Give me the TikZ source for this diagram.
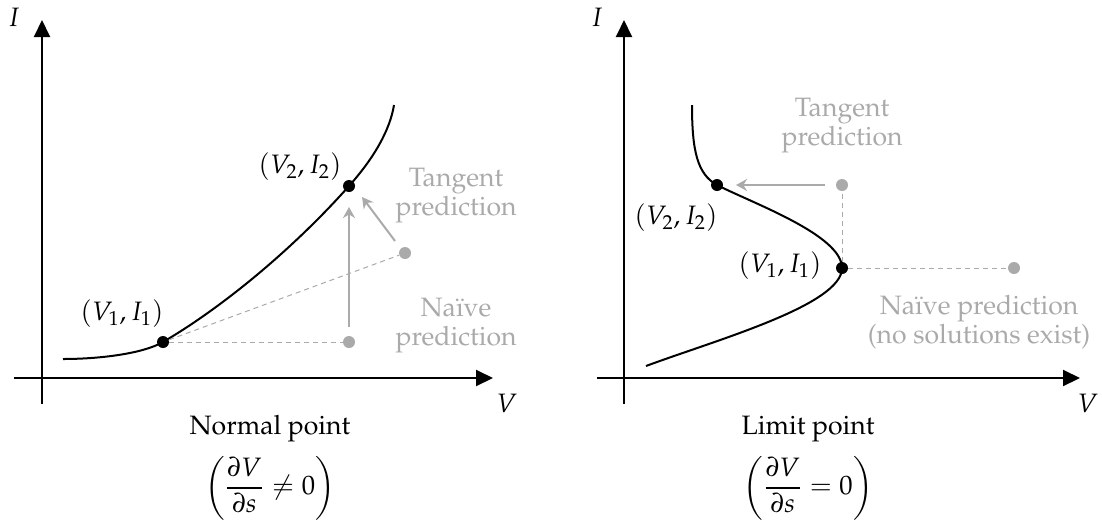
\documentclass[tikz,border=0pt]{standalone}
\usepackage[T1]{fontenc}
\usepackage{mathpazo}
\usepackage{amsmath}
\usetikzlibrary{arrows.meta}
\definecolor{lgray}{RGB}{170,170,170}
\tikzset{
  axis/.style={line width=1pt,-{Triangle[length=8.5pt,width=8pt]}},
  curve/.style={line width=1pt},
  bdot/.style={circle,fill=black,inner sep=0pt,minimum size=6pt},
  gdot/.style={circle,fill=lgray,inner sep=0pt,minimum size=6pt},
  guide/.style={lgray,line width=0.5pt,dash pattern=on 2.5pt off 2pt},
  garrow/.style={lgray,line width=1pt,-{Stealth[length=5.5pt,width=6pt,inset=1.8pt]}},
  glabel/.style={text=lgray,align=center,inner sep=1pt,font=\fontsize{13.3}{14.5}\selectfont},
  lab/.style={inner sep=1pt,font=\fontsize{13.3}{14.5}\selectfont},
  captext/.style={align=center,inner sep=1pt,font=\fontsize{13.3}{14.5}\selectfont}
}
\begin{document}
\begin{tikzpicture}[x=0.5pt,y=-0.5pt]
\useasboundingbox (0,0) rectangle (1102,531);
% ---------- Left panel ----------
\coordinate (lxs) at (14,378);
\coordinate (lxe) at (493,378);
\coordinate (lys) at (42,404);
\coordinate (lye) at (42,20);
\draw[axis] (lxs) -- (lxe);
\draw[axis] (lys) -- (lye);
\node[lab] (lI) at (14,17) {$I$};
\node[lab] (lV) at (507,403) {$V$};
\coordinate (lc0) at (63,359);
\coordinate (lc3) at (394,105);
\draw[curve] (lc0) .. controls (100,359) and (143,353.6) .. (163,342)
  .. controls (223,307) and (294,248) .. (349,186)
  .. controls (374,158) and (390,130) .. (lc3);
\node[gdot] (lnaive) at (349,342) {};
\node[gdot] (ltan) at (405,253) {};
\node[bdot] (lp1) at (163,342) {};
\node[bdot] (lp2) at (349,186) {};
\draw[guide] (lp1) -- (lnaive);
\draw[guide] (lp1) -- (ltan);
\coordinate (lna) at (349,327);
\coordinate (lnb) at (349,207);
\draw[garrow] (lna) -- (lnb);
\coordinate (lta) at (395,241);
\coordinate (ltb) at (362,197);
\draw[garrow] (lta) -- (ltb);
\node[lab] (lp1l) at (122,314) {$(V_1, I_1)$};
\node[lab] (lp2l) at (300,167) {$(V_2, I_2)$};
\node[glabel] (ltl) at (456,196) {Tangent\\prediction};
\node[glabel] (lnl) at (456,326) {Na\"{\i}ve\\prediction};
\node[captext] (lcap) at (270,429) {Normal point};
\node[captext] (lfor) at (270,488) {$\left(\dfrac{\partial V}{\partial s} \neq 0\right)$};
% ---------- Right panel ----------
\coordinate (rxs) at (597,378);
\coordinate (rxe) at (1080,378);
\coordinate (rys) at (624,404);
\coordinate (rye) at (624,20);
\draw[axis] (rxs) -- (rxe);
\draw[axis] (rys) -- (rye);
\node[lab] (rI) at (597,17) {$I$};
\node[lab] (rV) at (1088,403) {$V$};
\coordinate (rc0) at (646,366);
\coordinate (rc3) at (692,105);
\draw[curve] (rc0) .. controls (716,340) and (842,305) .. (842,268)
  .. controls (842,235) and (752,203) .. (717,185)
  .. controls (697,174) and (692,150) .. (rc3);
\node[gdot] (rnaive) at (1014,268) {};
\node[gdot] (rtan) at (842,185) {};
\node[bdot] (rp1) at (842,268) {};
\node[bdot] (rp2) at (717,185) {};
\draw[guide] (rp1) -- (rnaive);
\draw[guide] (rp1) -- (rtan);
\coordinate (rta) at (825,185);
\coordinate (rtb) at (736,185);
\draw[garrow] (rta) -- (rtb);
\node[lab] (rp1l) at (780,266) {$(V_1, I_1)$};
\node[lab] (rp2l) at (676,218) {$(V_2, I_2)$};
\node[glabel] (rtl) at (842,126) {Tangent\\prediction};
\node[glabel] (rnl) at (979,322) {Na\"{\i}ve prediction\\(no solutions exist)};
\node[captext] (rcap) at (808,429) {Limit point};
\node[captext] (rfor) at (808,488) {$\left(\dfrac{\partial V}{\partial s} = 0\right)$};
\end{tikzpicture}
\end{document}
